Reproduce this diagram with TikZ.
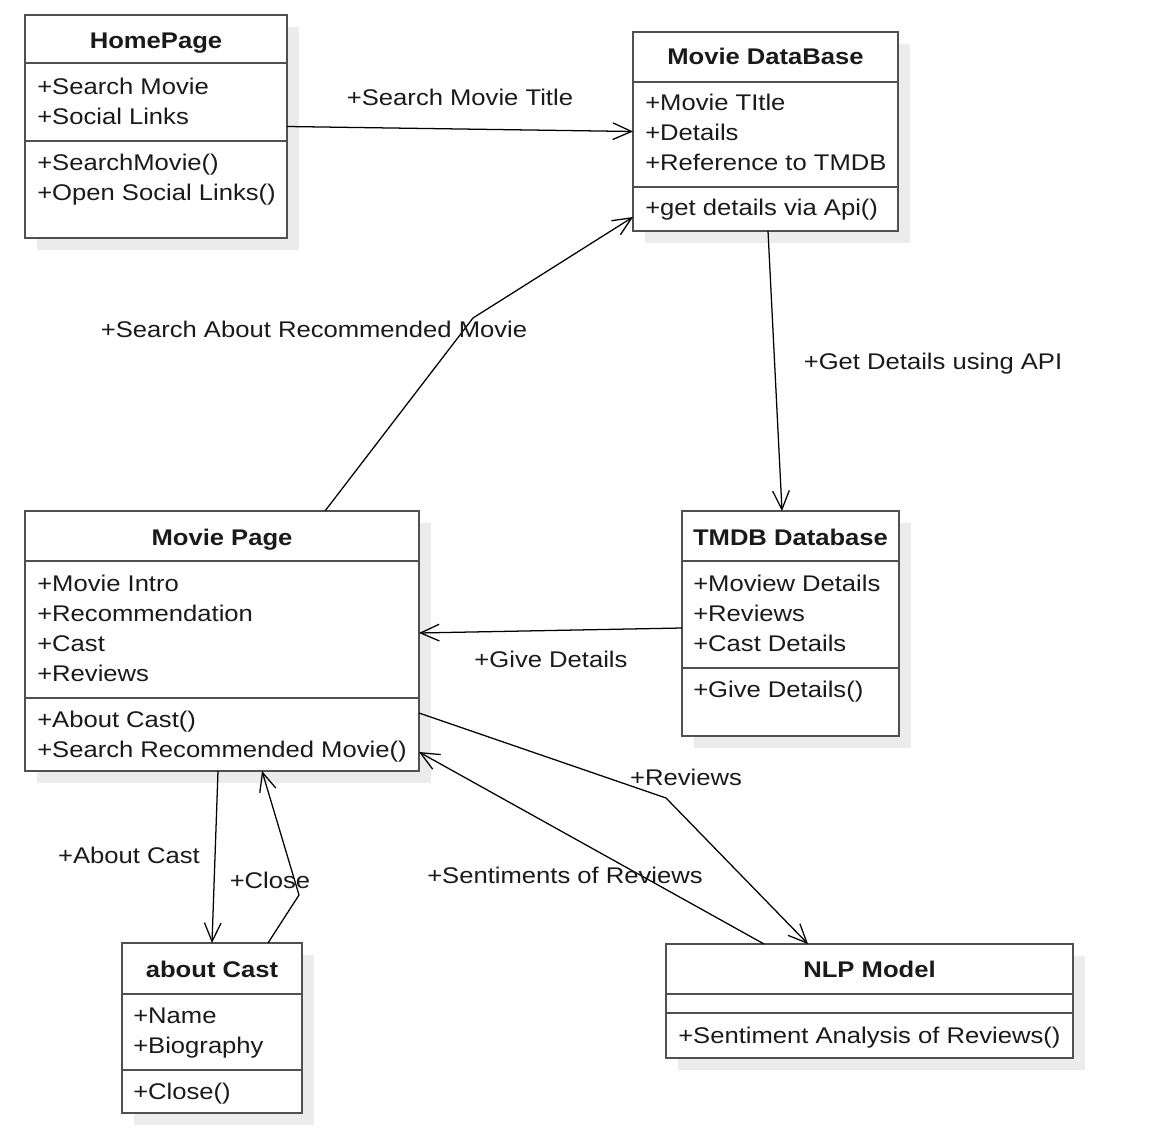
\documentclass[tikz,border=0pt]{standalone}
\usepackage{fontspec}
\setmainfont{Liberation Sans}[FakeStretch=1.13]
\usetikzlibrary{arrows.meta,calc}
\definecolor{boxc}{RGB}{80,80,80}
\definecolor{shc}{RGB}{236,236,236}
\definecolor{txt}{RGB}{26,26,26}
\newcommand\classbox[5]{%
  \fill[shc] (#2+12,#3+12) rectangle (#4+12,#5+12);
  \node[umlbox, minimum width={(#4-#2)*0.75pt}, minimum height={(#5-#3)*0.75pt}] (#1) at (#2,#3) {};}
\begin{document}
\begin{tikzpicture}[x=0.75pt,y=-0.75pt,
  font=\fontsize{17}{22.5}\selectfont,
  umlbox/.style={draw=boxc, line width=1.5pt, fill=white, inner sep=0pt, outer sep=0pt, anchor=north west},
  divline/.style={draw=boxc, line width=1.5pt},
  ttlt/.style={font=\fontsize{17}{22.5}\selectfont\bfseries, anchor=base, inner sep=0pt, text=txt},
  itemt/.style={anchor=base west, inner sep=0pt, text=txt},
  lblt/.style={anchor=base, inner sep=0pt, text=txt},
  conn/.style={draw=black, line width=0.95pt, -{Straight Barb[length=14pt,width=12.5pt,line width=0.95pt]}}
]
\useasboundingbox (0,0) rectangle (1149,1137);
\fill[white] (0,0) rectangle (1149,1137);

% ---------- HomePage
\classbox{home}{25}{15}{287}{238}
\draw[divline] (25,63) -- (287,63);
\draw[divline] (25,141) -- (287,141);
\node[ttlt] (homeT) at (156,49) {HomePage};
\node[itemt] (homeA1) at (37,95) {+Search Movie};
\node[itemt] (homeA2) at (37,125) {+Social Links};
\node[itemt] (homeO1) at (37,171) {+SearchMovie()};
\node[itemt] (homeO2) at (37,201) {+Open Social Links()};

% ---------- Movie DataBase
\classbox{mdb}{633}{32}{898}{231}
\draw[divline] (633,82) -- (898,82);
\draw[divline] (633,187) -- (898,187);
\node[ttlt] (mdbT) at (765.5,65) {Movie DataBase};
\node[itemt] (mdbA1) at (645,111) {+Movie TItle};
\node[itemt] (mdbA2) at (645,141) {+Details};
\node[itemt] (mdbA3) at (645,171) {+Reference to TMDB};
\node[itemt] (mdbO1) at (645,216) {+get details via Api()};

% ---------- TMDB Database
\classbox{tmdb}{682}{511}{899}{736}
\draw[divline] (682,561) -- (899,561);
\draw[divline] (682,668) -- (899,668);
\node[ttlt] (tmdbT) at (790.5,545) {TMDB Database};
\node[itemt] (tmdbA1) at (693,591) {+Moview Details};
\node[itemt] (tmdbA2) at (693,621) {+Reviews};
\node[itemt] (tmdbA3) at (693,651) {+Cast Details};
\node[itemt] (tmdbO1) at (693,697) {+Give Details()};

% ---------- Movie Page
\classbox{mp}{25}{511}{419}{771}
\draw[divline] (25,561) -- (419,561);
\draw[divline] (25,698) -- (419,698);
\node[ttlt] (mpT) at (222,545) {Movie Page};
\node[itemt] (mpA1) at (37,591) {+Movie Intro};
\node[itemt] (mpA2) at (37,621) {+Recommendation};
\node[itemt] (mpA3) at (37,651) {+Cast};
\node[itemt] (mpA4) at (37,681) {+Reviews};
\node[itemt] (mpO1) at (37,727) {+About Cast()};
\node[itemt] (mpO2) at (37,757) {+Search Recommended Movie()};

% ---------- about Cast
\classbox{ac}{122}{943}{302}{1113}
\draw[divline] (122,994) -- (302,994);
\draw[divline] (122,1070) -- (302,1070);
\node[ttlt] (acT) at (212,977) {about Cast};
\node[itemt] (acA1) at (133,1023) {+Name};
\node[itemt] (acA2) at (133,1053) {+Biography};
\node[itemt] (acO1) at (133,1099) {+Close()};

% ---------- NLP Model
\classbox{nlp}{666}{944}{1073}{1058}
\draw[divline] (666,994) -- (1073,994);
\draw[divline] (666,1013) -- (1073,1013);
\node[ttlt] (nlpT) at (869.5,977) {NLP Model};
\node[itemt] (nlpO1) at (678,1043) {+Sentiment Analysis of Reviews()};

% ---------- connectors
\draw[conn] (home.east) -- (mdb.west);
\node[lblt] (l1) at (460,106) {+Search Movie Title};

\coordinate (bend2) at (473,318);
\draw[conn] ($(mp.north west)+(300,0)$) -- (bend2) -- ($(mdb.south west)+(0,-14)$);
\node[lblt] (l2) at (314,338) {+Search About Recommended Movie};

\draw[conn] ($(mdb.south west)+(135,0)$) -- ($(tmdb.north west)+(100,0)$);
\node[lblt] (l3) at (933,370) {+Get Details using API};

\draw[conn] ($(tmdb.north west)+(0,117)$) -- ($(mp.north east)+(0,122)$);
\node[lblt] (l4) at (551,667) {+Give Details};

\coordinate (bend5) at (666,798);
\draw[conn] ($(mp.north east)+(0,202)$) -- (bend5) -- ($(nlp.north west)+(142,0)$);
\node[lblt] (l5) at (686,785) {+Reviews};

\draw[conn] ($(nlp.north west)+(98,0)$) -- ($(mp.north east)+(0,241)$);
\node[lblt] (l6) at (565,883) {+Sentiments of Reviews};

\draw[conn] ($(mp.south west)+(193,0)$) -- ($(ac.north west)+(90,0)$);
\node[lblt] (l7) at (129,863) {+About Cast};

\coordinate (bend8) at (299,895);
\draw[conn] ($(ac.north west)+(146,0)$) -- (bend8) -- ($(mp.south west)+(237,0)$);
\node[lblt] (l8) at (270,888) {+Close};
\end{tikzpicture}
\end{document}
